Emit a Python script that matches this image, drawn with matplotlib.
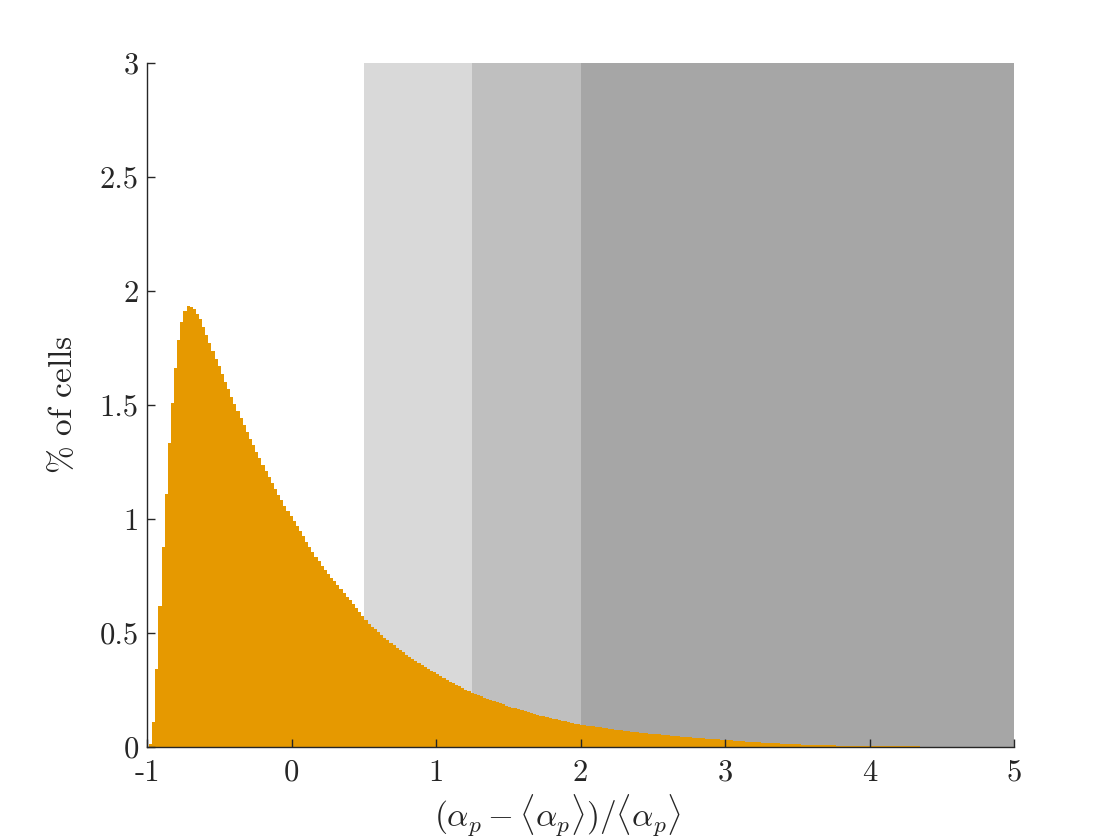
import numpy as np
import matplotlib
matplotlib.use("Agg")
import matplotlib.pyplot as plt

# Fonts: Computer Modern look, like MATLAB's LaTeX interpreter
plt.rcParams['font.family'] = ['cmr10', 'DejaVu Serif']
plt.rcParams['mathtext.fontset'] = 'cm'
plt.rcParams['axes.unicode_minus'] = False
plt.rcParams['axes.formatter.use_mathtext'] = True

# Histogram: first bin edge, bin width, % of cells per bin
first_edge = -0.9862
bin_width = 0.0216
pct_cells = [
    0.013, 0.108, 0.342, 0.620, 0.877, 1.111, 1.333, 1.510, 1.662, 1.785,
    1.863, 1.914, 1.936, 1.932, 1.920, 1.899, 1.876, 1.842, 1.807, 1.772,
    1.737, 1.703, 1.669, 1.635, 1.602, 1.569, 1.537, 1.505, 1.474, 1.443,
    1.413, 1.383, 1.353, 1.324, 1.295, 1.267, 1.239, 1.211, 1.184, 1.158,
    1.132, 1.107, 1.083, 1.059, 1.035, 1.012, 0.990, 0.968, 0.946, 0.925,
    0.901, 0.878, 0.856, 0.834, 0.815, 0.796, 0.778, 0.760, 0.743, 0.726,
    0.709, 0.692, 0.675, 0.659, 0.643, 0.628, 0.610, 0.592, 0.574, 0.557,
    0.541, 0.528, 0.516, 0.503, 0.491, 0.480, 0.468, 0.457, 0.446, 0.436,
    0.425, 0.415, 0.405, 0.396, 0.386, 0.377, 0.368, 0.360, 0.351, 0.343,
    0.335, 0.327, 0.319, 0.311, 0.303, 0.295, 0.287, 0.280, 0.273, 0.266,
    0.259, 0.252, 0.245, 0.239, 0.233, 0.228, 0.222, 0.217, 0.211, 0.206,
    0.201, 0.196, 0.191, 0.187, 0.182, 0.177, 0.173, 0.169, 0.165, 0.161,
    0.157, 0.153, 0.149, 0.145, 0.142, 0.138, 0.134, 0.131, 0.128, 0.124,
    0.121, 0.118, 0.115, 0.112, 0.109, 0.106, 0.103, 0.101, 0.098, 0.096,
    0.094, 0.092, 0.090, 0.088, 0.086, 0.084, 0.082, 0.080, 0.078, 0.076,
    0.075, 0.073, 0.071, 0.070, 0.068, 0.066, 0.065, 0.063, 0.062, 0.060,
    0.059, 0.058, 0.056, 0.055, 0.053, 0.052, 0.051, 0.049, 0.048, 0.047,
    0.046, 0.045, 0.043, 0.042, 0.041, 0.040, 0.039, 0.038, 0.037, 0.036,
    0.035, 0.034, 0.033, 0.032, 0.031, 0.030, 0.029, 0.028, 0.027, 0.026,
    0.025, 0.024, 0.023, 0.022, 0.021, 0.020, 0.019, 0.019, 0.018, 0.017,
    0.016, 0.016, 0.015, 0.0143, 0.0137, 0.0131, 0.0125, 0.0119, 0.0114, 0.0108,
    0.0103, 0.0099, 0.0094, 0.0090, 0.0086, 0.0082, 0.0078, 0.0075, 0.0071, 0.0068,
    0.0065, 0.0062, 0.0060, 0.0057, 0.0055, 0.0053, 0.0051, 0.0049, 0.0047, 0.0045,
    0.0043, 0.0041, 0.0040, 0.0038, 0.0036, 0.0035, 0.0034, 0.0033, 0.0031, 0.0030,
    0.0029, 0.0028, 0.0027, 0.0026, 0.0025, 0.0024, 0.0023, 0.0022, 0.0021, 0.0020,
    0.0020, 0.0019, 0.0018, 0.0017, 0.0017, 0.0016, 0.0016, 0.0015, 0.0014, 0.0014,
    0.0013, 0.0013, 0.0012, 0.0012, 0.0011, 0.0011, 0.0011, 0.0010, 0.0010, 0.0010,
    0.0009, 0.0009, 0.0009, 0.0009, 0.0008, 0.0008, 0.0008,
]

# shaded ranges on the x axis and their grey levels
region_edges = [0.5, 1.25, 2.0, 5.0]
region_colors = ['#d9d9d9', '#bfbfbf', '#a6a6a6']

xticks = [-1, 0, 1, 2, 3, 4, 5]
xtick_labels = ['-1', '0', '1', '2', '3', '4', '5']
yticks = [0, 0.5, 1, 1.5, 2, 2.5, 3]
ytick_labels = ['0', '0.5', '1', '1.5', '2', '2.5', '3']

axis_color = '#262626'
bar_color = '#e69900'

fig = plt.figure(figsize=(11.2, 8.4), dpi=100)
ax = fig.add_axes([0.1313, 0.1107, 0.7741, 0.8143])

for lo, hi, c in zip(region_edges[:-1], region_edges[1:], region_colors):
    ax.axvspan(lo, hi, color=c, lw=0, zorder=0)

edges = first_edge + bin_width * np.arange(len(pct_cells) + 1)
ax.stairs(pct_cells, edges, fill=True, color=bar_color, lw=0, zorder=1)

ax.set_xlim(-1, 5)
ax.set_ylim(0, 3)
ax.set_xticks(xticks)
ax.set_xticklabels(xtick_labels)
ax.set_yticks(yticks)
ax.set_yticklabels(ytick_labels)

for s in ['top', 'right']:
    ax.spines[s].set_visible(False)
for s in ['left', 'bottom']:
    ax.spines[s].set_color(axis_color)
    ax.spines[s].set_linewidth(1.0)
    ax.spines[s].set_zorder(3)

ax.tick_params(direction='in', length=6, width=1.0, colors=axis_color,
               labelsize=22)
ax.tick_params(axis='x', top=False, pad=9)
ax.tick_params(axis='y', right=False, pad=6)

ax.set_xlabel(r'$(\alpha_p - \langle\alpha_p\rangle)/\langle\alpha_p\rangle$',
              fontsize=24, color=axis_color)
ax.xaxis.set_label_coords(0.474, -0.066, transform=ax.transAxes)
ax.xaxis.label.set_va('top')
ax.set_ylabel(r'$\%$ of cells', fontsize=24, color=axis_color)
ax.yaxis.set_label_coords(-0.08, 0.5, transform=ax.transAxes)

fig.savefig('out.png', dpi=100)
